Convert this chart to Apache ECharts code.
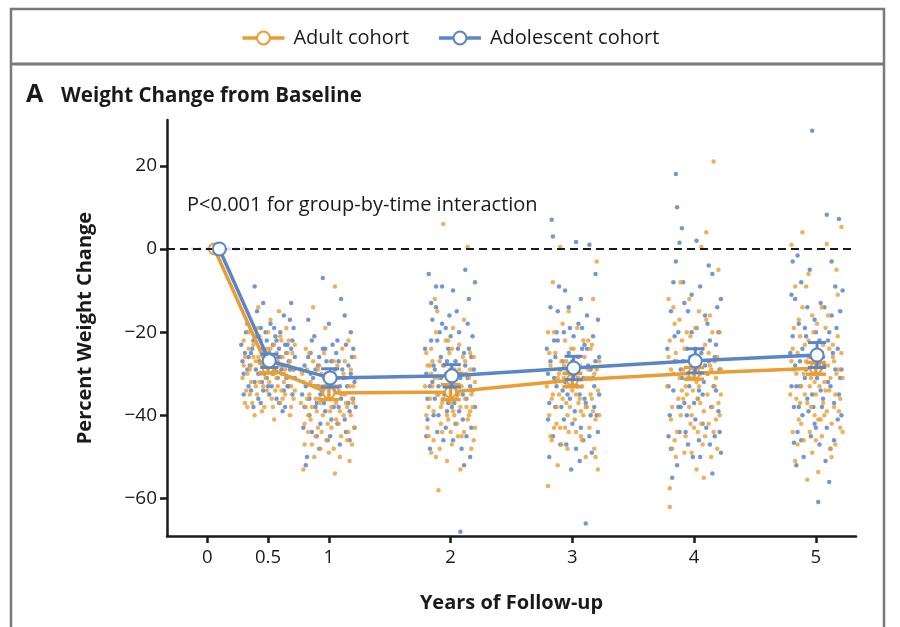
<!DOCTYPE html>
<html>
<head>
<meta charset="utf-8">
<script src="https://cdn.jsdelivr.net/npm/echarts@6/dist/echarts.min.js"></script>
<style>
html,body{margin:0;padding:0;background:#fff;}
#main{width:900px;height:627px;}
</style>
</head>
<body>
<div id="main"></div>
<script>
// ---------- DATA ----------
const seriesNames = ['Adult cohort', 'Adolescent cohort'];
const xTicks = [0, 0.5, 1, 2, 3, 4, 5];
const yTicks = [-60, -40, -20, 0, 20];

const adultYears = [0.06, 0.5, 1, 2, 3, 4, 5];
const adultMean  = [0, -28.6, -34.6, -34.4, -31.5, -29.9, -28.7];
const adultSE    = [0, 1.2, 1.6, 1.8, 1.6, 1.4, 1.4];

const adolYears  = [0.1, 0.51, 1.01, 2.01, 3.01, 4.01, 5.01];
const adolMean   = [0, -26.9, -31.0, -30.5, -28.6, -26.9, -25.5];
const adolSE     = [0, 1.6, 2.2, 2.7, 2.8, 2.9, 3.0];

const baselinePts = [[-0.12,0],[-0.06,0],[0.0,0],[0.04,0],[0.12,0],[0.18,0],[0.24,0],[0.3,0]];

const adultPts = [
 // 0.5
 [0.30,-22],[0.33,-30],[0.35,-35],[0.38,-26],[0.41,-19],[0.43,-32],[0.45,-28],[0.47,-38],[0.50,-24],[0.52,-17],[0.54,-30],[0.56,-34],[0.58,-27],[0.60,-21],[0.62,-36],[0.64,-29],[0.66,-25],[0.68,-40],[0.70,-31],[0.72,-23],[0.31,-37],[0.36,-28],[0.40,-33],[0.44,-22],[0.48,-31],[0.53,-36],[0.57,-25],[0.61,-30],[0.65,-19],[0.69,-33],[0.34,-24],[0.39,-40],[0.46,-26],[0.51,-29],[0.55,-41],[0.59,-15],[0.63,-32],[0.67,-28],[0.71,-36],[0.42,-14],
 [0.29,-31],[0.31,-26],[0.32,-34],[0.34,-20],[0.35,-29],[0.37,-37],[0.38,-23],[0.40,-27],[0.41,-35],[0.43,-21],[0.44,-30],[0.45,-39],[0.47,-24],[0.48,-27],[0.49,-34],[0.50,-20],[0.51,-32],[0.53,-26],[0.54,-38],[0.55,-23],[0.56,-29],[0.58,-33],[0.59,-28],[0.60,-37],[0.61,-22],[0.62,-26],[0.63,-30],[0.64,-35],[0.66,-31],[0.67,-22],[0.68,-27],[0.69,-38],[0.70,-25],[0.71,-29],[0.72,-34],[0.30,-28],[0.36,-32],[0.42,-26],[0.46,-33],[0.52,-24],[0.57,-31],[0.65,-28],[0.33,-38],[0.49,-29],[0.61,-34],
 // 1
 [0.78,-30],[0.80,-42],[0.82,-36],[0.84,-25],[0.86,-47],[0.88,-33],[0.90,-39],[0.92,-28],[0.94,-44],[0.96,-35],[0.98,-31],[1.00,-49],[1.02,-38],[1.04,-27],[1.05,-9],[1.06,-41],[1.08,-34],[1.10,-45],[1.12,-30],[1.14,-37],[1.16,-22],[1.17,-51],[1.18,-40],[1.20,-33],[1.21,-43],[0.79,-53],[0.81,-38],[0.85,-32],[0.89,-45],[0.93,-37],[0.97,-19],[1.01,-34],[1.05,-54],[1.09,-39],[1.13,-27],[1.19,-36],[0.83,-44],[0.91,-29],[0.99,-42],[1.07,-31],[1.15,-46],[0.87,-14],
 [0.77,-37],[0.79,-32],[0.80,-47],[0.82,-29],[0.83,-40],[0.84,-35],[0.86,-38],[0.87,-27],[0.88,-50],[0.90,-33],[0.91,-43],[0.92,-36],[0.94,-30],[0.95,-40],[0.96,-25],[0.98,-46],[0.99,-36],[1.00,-30],[1.02,-43],[1.03,-33],[1.04,-48],[1.06,-37],[1.07,-28],[1.08,-42],[1.10,-35],[1.11,-24],[1.12,-40],[1.14,-31],[1.15,-38],[1.16,-44],[1.18,-29],[1.19,-47],[1.20,-37],[1.22,-31],[0.81,-24],[0.85,-41],[0.89,-36],[0.93,-48],[0.97,-33],[1.01,-39],[1.05,-31],[1.09,-50],[1.13,-35],[1.17,-33],[1.21,-26],
 // 2
 [1.80,-25],[1.82,-38],[1.84,-30],[1.86,-46],[1.88,-20],[1.90,-35],[1.92,-42],[1.94,6],[1.95,-28],[1.97,-51],[1.99,-33],[2.01,-24],[2.03,-40],[2.05,-36],[2.07,-29],[2.09,-45],[2.11,-17],[2.13,-38],[2.14,0.5],[2.15,-31],[2.17,-48],[2.19,-26],[1.81,-43],[1.85,-33],[1.87,-12],[1.90,-58],[1.93,-37],[1.96,-22],[2.00,-44],[2.04,-31],[2.08,-53],[2.12,-27],[2.16,-39],[2.18,-34],[1.83,-28],[1.91,-48],[1.98,-41],[2.02,-19],[2.06,-35],[2.10,-30],[2.20,-43],[1.89,-15],
 [1.79,-33],[1.81,-28],[1.82,-45],[1.83,-36],[1.84,-24],[1.86,-39],[1.87,-31],[1.88,-50],[1.89,-35],[1.91,-27],[1.92,-38],[1.93,-44],[1.95,-33],[1.96,-30],[1.97,-40],[1.99,-25],[2.00,-37],[2.01,-47],[2.03,-29],[2.04,-34],[2.05,-42],[2.07,-23],[2.08,-38],[2.09,-33],[2.11,-44],[2.12,-36],[2.13,-30],[2.15,-40],[2.16,-25],[2.17,-35],[2.19,-46],[2.20,-32],[1.80,-40],[1.85,-27],[1.90,-31],[1.94,-36],[1.98,-22],[2.02,-39],[2.06,-45],[2.10,-26],[2.14,-41],[2.18,-38],[1.84,-49],[2.00,-32],[2.16,-29],
 // 3
 [2.80,-57],[2.81,-25],[2.83,-36],[2.85,-20],[2.87,-42],[2.89,-30],[2.90,0.5],[2.91,-47],[2.93,-28],[2.95,-37],[2.97,-15],[2.99,-33],[3.01,-24],[3.03,-44],[3.05,-31],[3.07,-39],[3.09,-22],[3.11,-50],[3.13,-29],[3.15,-35],[3.17,-12],[3.19,-41],[3.20,-3],[3.22,-27],[2.82,-45],[2.86,-32],[2.88,-52],[2.92,-18],[2.96,-40],[3.00,-34],[3.04,-26],[3.08,-46],[3.12,-38],[3.16,-23],[3.21,-53],[2.84,-8],[2.94,-43],[2.98,-29],[3.06,-36],[3.14,-31],[3.18,-48],
 [2.79,-33],[2.81,-40],[2.82,-28],[2.83,-46],[2.84,-35],[2.86,-25],[2.87,-38],[2.88,-31],[2.90,-43],[2.91,-27],[2.92,-36],[2.94,-22],[2.95,-33],[2.96,-48],[2.98,-38],[2.99,-24],[3.00,-30],[3.02,-41],[3.03,-35],[3.04,-19],[3.06,-28],[3.07,-45],[3.08,-33],[3.10,-26],[3.11,-38],[3.12,-31],[3.14,-43],[3.15,-24],[3.16,-36],[3.18,-30],[3.19,-50],[3.21,-34],[3.22,-40],[2.80,-20],[2.85,-43],[2.89,-35],[2.93,-31],[2.97,-44],[3.01,-28],[3.05,-37],[3.09,-40],[3.13,-22],[3.17,-39],[3.20,-29],[2.95,-27],
 // 4
 [3.79,-26],[3.80,-57.5],[3.80,-62],[3.82,-38],[3.84,-18],[3.86,-44],[3.88,-31],[3.90,-22],[3.92,-49],[3.94,-35],[3.96,-12],[3.98,-40],[4.00,-28],[4.02,-53],[4.04,-33],[4.06,0.5],[4.07,-24],[4.09,-45],[4.10,4],[4.11,-30],[4.13,-16],[4.15,-38],[4.16,21],[4.17,-27],[4.19,-48],[4.21,-20],[4.22,-35],[3.81,-29],[3.85,-50],[3.89,-8],[3.93,-33],[3.97,-42],[4.01,-19],[4.05,-37],[4.08,-55],[4.12,-25],[4.18,-41],[3.83,-14],[3.91,-36],[3.99,-31],[4.03,-44],[4.14,-29],[4.20,-5],
 [3.78,-33],[3.80,-22],[3.81,-41],[3.83,-30],[3.84,-46],[3.85,-25],[3.87,-36],[3.88,-17],[3.89,-40],[3.91,-29],[3.92,-24],[3.93,-45],[3.95,-31],[3.96,-38],[3.97,-21],[3.99,-34],[4.00,-43],[4.01,-26],[4.03,-36],[4.04,-15],[4.05,-30],[4.07,-47],[4.08,-39],[4.09,-23],[4.11,-35],[4.12,-42],[4.13,-28],[4.15,-20],[4.16,-44],[4.17,-33],[4.19,-26],[4.20,-37],[4.22,-29],[3.79,-12],[3.82,-48],[3.86,-27],[3.90,-34],[3.94,-20],[3.98,-49],[4.02,-32],[4.06,-42],[4.10,-17],[4.14,-50],[4.18,-31],[4.21,-40],
 // 5
 [4.81,-24],[4.83,-51],[4.84,-36],[4.86,-17],[4.88,-42],[4.89,4],[4.90,-30],[4.92,-9],[4.93,-55.5],[4.94,-26],[4.96,-38],[4.98,-20],[5.00,-46],[5.02,-53.6],[5.03,-33],[5.05,-14],[5.07,-40],[5.09,1.2],[5.10,-28],[5.12,-48],[5.14,-23],[5.16,-35],[5.18,-11],[5.20,-43],[5.21,5.3],[5.22,-31],[4.82,-29],[4.85,-47],[4.87,-21],[4.91,-35],[4.95,-44],[4.97,-16],[4.99,-32],[5.01,-25],[5.04,-41],[5.06,-37],[5.08,-19],[5.11,-34],[5.13,-50],[5.15,-27],[5.17,-5],[5.19,-39],[4.80,1],
 [4.79,-35],[4.81,-44],[4.82,-19],[4.84,-30],[4.85,-25],[4.86,-41],[4.88,-33],[4.89,-14],[4.90,-46],[4.92,-27],[4.93,-37],[4.94,-22],[4.96,-31],[4.97,-49],[4.98,-28],[5.00,-35],[5.01,-18],[5.02,-41],[5.04,-29],[5.05,-45],[5.06,-23],[5.08,-34],[5.09,-39],[5.10,-16],[5.12,-31],[5.13,-42],[5.14,-26],[5.16,-47],[5.17,-30],[5.18,-21],[5.20,-36],[5.21,-25],[5.22,-44],[4.80,-27],[4.83,-9],[4.87,-37],[4.91,-23],[4.95,-33],[4.99,-40],[5.03,-27],[5.07,-32],[5.11,-24],[5.15,-38],[5.19,-29],[4.94,-6]
];

const adolPts = [
 // 0.5
 [0.29,-27],[0.32,-20],[0.34,-33],[0.37,-24],[0.39,-9],[0.42,-30],[0.44,-37],[0.46,-13],[0.49,-22],[0.51,-35],[0.53,-28],[0.55,-19],[0.58,-31],[0.60,-26],[0.62,-39],[0.64,-23],[0.66,-33],[0.68,-17],[0.69,-13],[0.71,-29],[0.30,-35],[0.36,-25],[0.41,-21],[0.45,-32],[0.50,-27],[0.54,-23],[0.57,-36],[0.61,-29],[0.65,-25],[0.70,-22],[0.33,-29],[0.38,-38],[0.47,-30],[0.52,-18],[0.59,-24],[0.63,-34],[0.67,-27],[0.72,-31],
 [0.28,-23],[0.30,-30],[0.31,-25],[0.33,-18],[0.35,-28],[0.36,-34],[0.38,-22],[0.40,-29],[0.41,-15],[0.43,-27],[0.45,-24],[0.46,-34],[0.48,-20],[0.49,-31],[0.51,-25],[0.53,-33],[0.55,-27],[0.56,-21],[0.58,-26],[0.59,-37],[0.60,-20],[0.62,-28],[0.63,-16],[0.65,-31],[0.66,-23],[0.68,-29],[0.70,-35],[0.71,-19],[0.72,-26],[0.34,-26],[0.39,-32],[0.44,-19],[0.50,-33],[0.54,-30],[0.57,-22],[0.64,-38],[0.67,-33],[0.42,-36],[0.47,-25],[0.69,-24],
 // 1
 [0.78,-35],[0.80,-28],[0.82,-50],[0.84,-40],[0.86,-22],[0.88,-33],[0.90,-45],[0.92,-26],[0.95,-7],[0.96,-37],[0.98,-30],[1.00,-18],[1.02,-41],[1.04,-34],[1.06,-25],[1.08,-38],[1.10,-12],[1.12,-31],[1.14,-44],[1.16,-28],[1.18,-20],[1.20,-36],[1.21,-32],[0.81,-52],[0.85,-30],[0.89,-38],[0.93,-42],[0.97,-24],[1.01,-35],[1.05,-29],[1.09,-47],[1.13,-16],[1.17,-39],[1.19,-26],[0.83,-17],[0.91,-33],[0.99,-46],[1.07,-22],
 [0.77,-29],[0.79,-43],[0.81,-33],[0.83,-26],[0.84,-36],[0.86,-44],[0.87,-31],[0.88,-21],[0.90,-37],[0.91,-28],[0.92,-48],[0.94,-34],[0.95,-24],[0.97,-39],[0.98,-27],[1.00,-33],[1.01,-45],[1.03,-23],[1.04,-38],[1.06,-31],[1.07,-42],[1.08,-27],[1.10,-36],[1.11,-29],[1.13,-41],[1.14,-23],[1.15,-33],[1.17,-46],[1.18,-30],[1.20,-24],[1.22,-38],[0.80,-38],[0.85,-25],[0.89,-29],[0.93,-35],[0.96,-31],[1.02,-27],[1.09,-33],[1.16,-37],[1.21,-43],
 // 2
 [1.80,-30],[1.82,-6],[1.84,-22],[1.86,-40],[1.88,-14],[1.90,-33],[1.92,-26],[1.94,-46],[1.96,-19],[1.98,-37],[2.00,-29],[2.02,-10],[2.04,-42],[2.06,-24],[2.08,-68],[2.10,-35],[2.12,-5],[2.14,-31],[2.16,-50],[2.18,-21],[2.20,-8],[1.81,-36],[1.85,-17],[1.89,-44],[1.93,-9],[1.97,-27],[2.01,-38],[2.05,-15],[2.09,-30],[2.13,-45],[2.17,-26],[1.83,-48],[1.91,-20],[1.99,-33],[2.07,-39],[2.15,-12],[1.87,-29],[2.11,-52],
 [1.79,-24],[1.81,-41],[1.83,-33],[1.84,-13],[1.86,-28],[1.87,-36],[1.89,-22],[1.90,-40],[1.92,-31],[1.93,-18],[1.95,-35],[1.96,-43],[1.98,-24],[1.99,-16],[2.01,-32],[2.02,-46],[2.04,-27],[2.05,-35],[2.07,-20],[2.08,-31],[2.10,-41],[2.11,-25],[2.13,-36],[2.14,-18],[2.16,-33],[2.17,-43],[2.19,-29],[2.20,-38],[1.80,-45],[1.85,-32],[1.88,-9],[1.94,-28],[1.97,-39],[2.00,-21],[2.03,-37],[2.06,-30],[2.09,-48],[2.12,-28],[2.15,-24],[2.18,-34],
 // 3
 [2.80,-30],[2.82,-14],[2.83,7],[2.84,3],[2.86,-38],[2.88,-22],[2.90,-47],[2.92,-27],[2.94,-10],[2.96,-35],[2.98,-19],[3.00,-42],[3.03,1.7],[3.04,-29],[3.06,-51],[3.08,-24],[3.10,-36],[3.11,-66],[3.12,-16],[3.14,1],[3.15,-40],[3.17,-31],[3.19,-6],[3.21,-44],[3.22,-26],[2.81,-50],[2.85,-31],[2.89,-9],[2.93,-41],[2.97,-25],[3.01,-33],[3.05,-18],[3.09,-46],[3.13,-28],[3.18,-38],[2.87,-20],[2.99,-53],[3.07,-12],
 [2.79,-24],[2.81,-37],[2.82,-27],[2.84,-45],[2.85,-22],[2.87,-33],[2.88,-15],[2.90,-29],[2.91,-38],[2.93,-20],[2.94,-32],[2.95,-47],[2.97,-14],[2.98,-36],[3.00,-27],[3.01,-21],[3.02,-39],[3.04,-33],[3.05,-26],[3.07,-43],[3.08,-19],[3.09,-31],[3.11,-37],[3.12,-24],[3.14,-45],[3.15,-29],[3.17,-21],[3.18,-33],[3.20,-40],[3.21,-17],[3.22,-35],[2.80,-41],[2.86,-26],[2.92,-34],[2.96,-29],[3.03,-48],[3.06,-35],[3.10,-23],[3.16,-49],[3.19,-27],
 // 4
 [3.79,-33],[3.81,-48],[3.82,-55],[3.84,-21],[3.85,18],[3.86,10],[3.87,-38],[3.88,1.5],[3.90,5],[3.91,-27],[3.93,-44],[3.95,-15],[3.97,-31],[3.99,-50],[4.01,-24],[4.02,2],[4.03,-36],[4.05,-9],[4.07,-42],[4.09,-28],[4.11,-18],[4.13,-47],[4.15,-54],[4.16,-33],[4.18,-23],[4.20,-39],[4.22,-12],[3.83,-8],[3.89,-29],[3.94,-40],[3.98,-20],[4.04,-46],[4.08,-32],[4.12,-4],[4.17,-26],[4.21,-44],[3.92,-13],[4.00,-37],
 [3.78,-24],[3.80,-40],[3.81,-15],[3.83,-34],[3.84,-27],[3.86,-52],[3.87,-20],[3.88,-44],[3.90,-31],[3.91,-8],[3.92,-37],[3.94,-24],[3.95,-47],[3.96,-33],[3.98,-11],[3.99,-28],[4.01,-41],[4.02,-19],[4.03,-30],[4.05,-50],[4.06,-25],[4.07,-35],[4.09,-16],[4.10,-43],[4.11,-30],[4.13,-22],[4.14,-38],[4.15,-6],[4.17,-45],[4.18,-34],[4.19,-14],[4.21,-29],[4.22,-49],[3.79,-45],[3.85,-3],[3.89,-38],[3.97,-26],[4.04,-34],[4.12,-27],[4.20,-20],
 // 5
 [4.80,-33],[4.82,-46.6],[4.83,-12],[4.85,-1.6],[4.87,-27],[4.89,-40],[4.91,-19],[4.93,-36],[4.95,-5],[4.97,28.4],[4.98,-30],[5.00,-43],[5.02,-60.8],[5.03,-22],[5.05,-38],[5.07,-14],[5.09,8.2],[5.10,-32],[5.12,-48],[5.14,-25],[5.16,-9],[5.18,-41],[5.19,7.2],[5.21,-29],[4.81,-21],[4.84,-52],[4.88,-8],[4.92,-29],[4.96,-45],[4.99,-17],[5.04,-34],[5.08,-51],[5.11,-20],[5.15,-37],[5.20,-15],[4.86,-38],[5.06,-26],[5.13,-3],
 [4.79,-25],[4.80,-11],[4.82,-38],[4.83,-28],[4.85,-44],[4.86,-18],[4.87,-33],[4.89,-24],[4.90,-50],[4.91,-31],[4.93,-14],[4.94,-39],[4.96,-26],[4.97,-35],[4.99,-42],[5.00,-20],[5.01,-31],[5.03,-47],[5.04,-13],[5.06,-36],[5.07,-28],[5.09,-43],[5.10,-22],[5.12,-33],[5.13,-16],[5.15,-46],[5.16,-29],[5.18,-24],[5.19,-35],[5.21,-40],[5.22,-10],[4.81,-3],[4.84,-33],[4.88,-46],[4.92,-21],[4.98,-38],[5.05,-25],[5.11,-56],[5.17,-19],[5.20,-31]
];

const pText = 'P<0.001 for group-by-time interaction';

// ---------- STYLE ----------
const ORANGE = '#E99D35';
const BLUE = '#5A86C8';
const INK = '#1a1a1a';
const FONT = 'Open Sans';

const chart = echarts.init(document.getElementById('main'), null, {renderer: 'canvas'});

function zipXY(xs, ys) { return xs.map((x, i) => [x, ys[i]]); }
function errData(xs, ys, se) { return xs.map((x, i) => [x, ys[i] - se[i], ys[i] + se[i]]); }

function errRender(color, capHalf, lw) {
  return function (params, api) {
    const x = api.value(0), lo = api.value(1), hi = api.value(2);
    if (hi - lo <= 0) return null;
    const pLo = api.coord([x, lo]);
    const pHi = api.coord([x, hi]);
    const st = {stroke: color, lineWidth: lw};
    return {
      type: 'group',
      children: [
        {type: 'line', shape: {x1: pLo[0], y1: pLo[1], x2: pHi[0], y2: pHi[1]}, style: st},
        {type: 'line', shape: {x1: pLo[0] - capHalf, y1: pLo[1], x2: pLo[0] + capHalf, y2: pLo[1]}, style: st},
        {type: 'line', shape: {x1: pHi[0] - capHalf, y1: pHi[1], x2: pHi[0] + capHalf, y2: pHi[1]}, style: st}
      ]
    };
  };
}

const fmtNum = v => (v < 0 ? '\u2212' + Math.abs(v) : String(v));

const option = {
  backgroundColor: '#fff',
  animation: false,
  textStyle: {fontFamily: FONT},
  legend: {
    top: 23,
    left: 'center',
    itemWidth: 42,
    itemHeight: 16,
    itemGap: 28,
    data: seriesNames,
    lineStyle: {width: 3.5},
    itemStyle: {borderWidth: 3},
    textStyle: {fontFamily: FONT, fontSize: 20, color: INK, padding: [0, 0, 0, 4]}
  },
  grid: {left: 167, right: 44, top: 120, bottom: 91, containLabel: false},
  xAxis: {
    type: 'value',
    min: -0.33,
    max: 5.33,
    name: 'Years of Follow-up',
    nameLocation: 'middle',
    nameGap: 57,
    nameTextStyle: {fontFamily: FONT, fontSize: 20, fontWeight: 'bold', color: INK},
    axisLine: {show: true, onZero: false, lineStyle: {color: INK, width: 2.5}},
    axisTick: {show: true, length: 7, lineStyle: {color: INK, width: 2.5}, customValues: xTicks},
    axisLabel: {color: INK, fontSize: 18.5, margin: 12, customValues: xTicks, formatter: v => String(v)},
    splitLine: {show: false}
  },
  yAxis: {
    type: 'value',
    min: -69,
    max: 31,
    name: 'Percent Weight Change',
    nameLocation: 'middle',
    nameGap: 72,
    nameRotate: 90,
    nameTextStyle: {fontFamily: FONT, fontSize: 20, fontWeight: 'bold', color: INK},
    axisLine: {show: true, onZero: false, lineStyle: {color: INK, width: 2.5}},
    axisTick: {show: true, length: 7, lineStyle: {color: INK, width: 2.5}, customValues: yTicks},
    axisLabel: {color: INK, fontSize: 19, margin: 10, customValues: yTicks, formatter: fmtNum},
    splitLine: {show: false}
  },
  graphic: [
    {type: 'rect', z: -1, silent: true, shape: {x: 11, y: 9, width: 873, height: 640},
     style: {fill: 'none', stroke: '#7a7a7a', lineWidth: 2.5}},
    {type: 'line', silent: true, shape: {x1: 11, y1: 64, x2: 884, y2: 64},
     style: {stroke: '#7a7a7a', lineWidth: 3}},
    {type: 'text', left: 26, top: 82, silent: true,
     style: {text: 'A', fontFamily: FONT, fontSize: 25, fontWeight: 'bold', fill: INK}},
    {type: 'text', left: 61, top: 86, silent: true,
     style: {text: 'Weight Change from Baseline', fontFamily: FONT, fontSize: 20.5, fontWeight: 'bold', fill: INK}},
    {type: 'text', left: 187, top: 195, silent: true,
     style: {text: pText, fontFamily: FONT, fontSize: 20, fill: INK}}
  ],
  series: [
    {
      name: 'baseline', type: 'scatter', silent: true, data: baselinePts, symbolSize: 4,
      itemStyle: {color: '#b8c4d8', opacity: 0.5}, z: 1
    },
    {
      name: 'adolPts', type: 'scatter', silent: true, data: adolPts, symbolSize: 4.5,
      itemStyle: {color: BLUE, opacity: 0.85}, z: 1
    },
    {
      name: 'adultPts', type: 'scatter', silent: true, data: adultPts, symbolSize: 4.5,
      itemStyle: {color: ORANGE, opacity: 0.8}, z: 1,
      markLine: {
        silent: true, symbol: 'none', label: {show: false},
        lineStyle: {color: INK, type: [8, 5], width: 2},
        data: [{yAxis: 0}]
      }
    },
    {
      name: seriesNames[0], type: 'line', data: zipXY(adultYears, adultMean),
      symbol: 'emptyCircle', symbolSize: 11,
      lineStyle: {color: ORANGE, width: 3.5},
      itemStyle: {color: ORANGE, borderColor: ORANGE, borderWidth: 4},
      z: 3
    },
    {
      name: 'adultErr', type: 'custom', silent: true, data: errData(adultYears, adultMean, adultSE),
      renderItem: errRender(ORANGE, 10, 3.5), z: 4
    },
    {
      name: 'adolErr', type: 'custom', silent: true, data: errData(adolYears, adolMean, adolSE),
      renderItem: errRender(BLUE, 9, 3), z: 5
    },
    {
      name: seriesNames[1], type: 'line', data: zipXY(adolYears, adolMean),
      symbol: 'emptyCircle', symbolSize: 13,
      lineStyle: {color: BLUE, width: 3.5},
      itemStyle: {color: BLUE, borderColor: BLUE, borderWidth: 4.5},
      z: 6
    }
  ]
};
chart.setOption(option);
</script>
</body>
</html>
